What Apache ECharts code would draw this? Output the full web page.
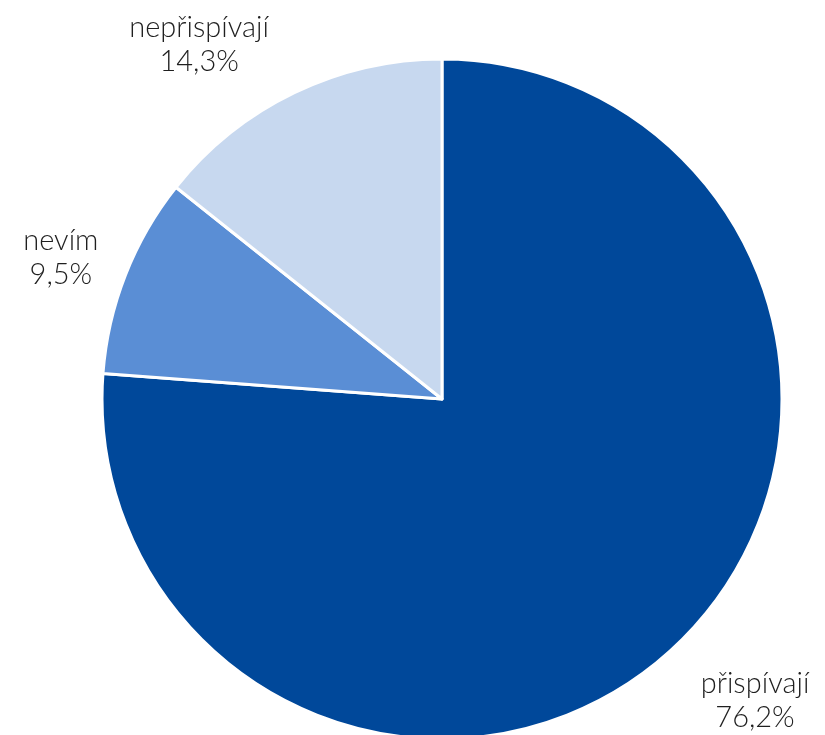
<!DOCTYPE html>
<html><head><meta charset="utf-8">
<script src="https://cdn.jsdelivr.net/npm/echarts@6/dist/echarts.min.js"></script>
<style>html,body{margin:0;padding:0;background:#fff}#c{width:825px;height:735px}</style>
</head><body><div id="c"></div>
<script>
const categories = ['přispívají', 'nevím', 'nepřispívají'];
const values = [76.2, 9.5, 14.3];
const colors = ['#00489A', '#5A8ED5', '#C7D8EF'];
const labelNudge = [[17, -12], [14, 15], [-52, 10]];

const chart = echarts.init(document.getElementById('c'));
chart.setOption({
  animation: false,
  series: [{
    type: 'pie',
    center: [442, 399],
    radius: 340,
    startAngle: 90,
    clockwise: true,
    data: categories.map((c, i) => ({ name: c, value: values[i], itemStyle: { color: colors[i] } })),
    itemStyle: { borderColor: '#fff', borderWidth: 3 },
    label: {
      position: 'outside',
      alignTo: 'none',
      overflow: 'none',
      formatter: p => p.name + '\n' + p.value.toFixed(1).replace('.', ',') + '%',
      fontFamily: 'Lato',
      fontWeight: 300,
      fontSize: 29,
      lineHeight: 34,
      color: '#1f1f1f'
    },
    labelLine: { show: false, length: 88, length2: 0 },
    labelLayout: p => ({ align: 'center', verticalAlign: 'middle', hideOverlap: false,
      dx: labelNudge[p.dataIndex][0], dy: labelNudge[p.dataIndex][1] }),
    emphasis: { disabled: true }
  }]
});
</script></body></html>
